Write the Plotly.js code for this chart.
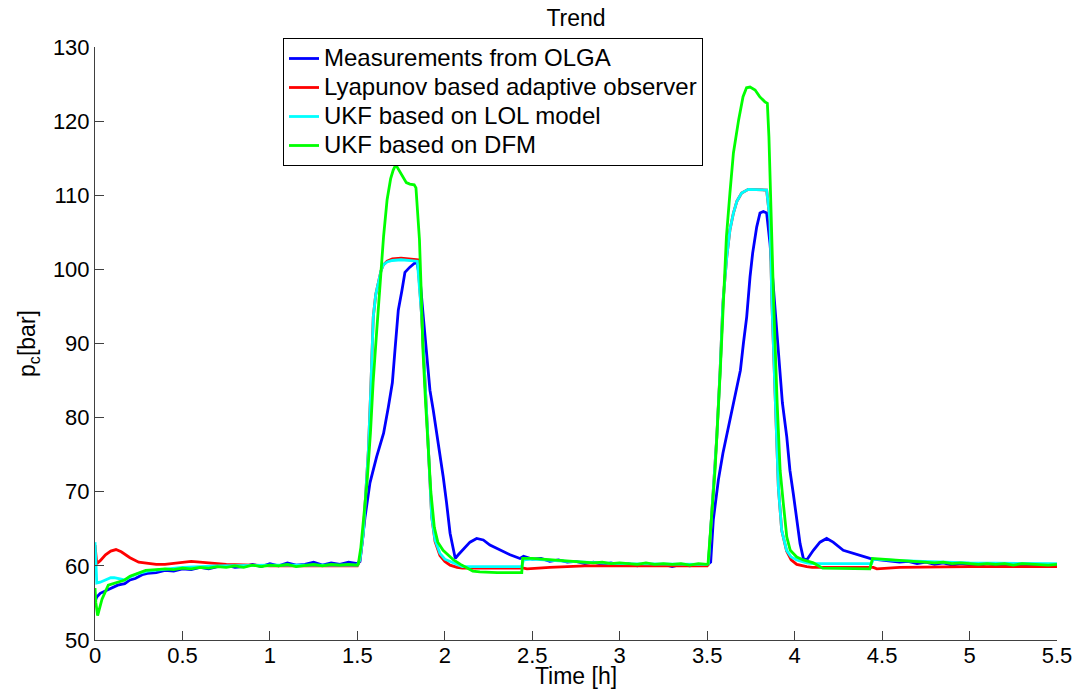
<!DOCTYPE html>
<html>
<head>
<meta charset="utf-8">
<script src="https://cdn.plot.ly/plotly-3.0.1.min.js"></script>
<style>html,body{margin:0;padding:0;background:#fff;}#chart{width:1078px;height:689px;}</style>
</head>
<body>
<div id="chart"></div>
<script>
// ---- data ----
const seriesNames = ["Measurements from OLGA", "Lyapunov based adaptive observer", "UKF based on LOL model", "UKF based on DFM"];

const blueT = [0,0.01,0.03,0.06,0.1,0.13,0.17,0.2,0.23,0.27,0.3,0.35,0.4,0.45,0.5,0.55,0.6,0.65,0.7,0.75,0.8,0.85,0.9,0.95,1.0,1.05,1.1,1.15,1.2,1.25,1.3,1.35,1.4,1.45,1.5,
1.515,1.544,1.572,1.61,1.65,1.677,1.70,1.715,1.734,1.755,1.772,1.80,1.83,1.843,1.86,1.877,1.896,1.915,1.934,1.954,1.97,1.991,2.01,2.03,2.05,2.06,2.077,2.106,2.144,2.182,2.22,2.258,2.315,2.373,2.43,2.45,
2.5,2.55,2.6,2.65,2.7,2.75,2.8,2.85,2.9,2.95,3.0,3.05,3.1,3.15,3.2,3.25,3.3,3.35,3.4,3.45,3.5,
3.52,3.535,3.564,3.59,3.63,3.659,3.69,3.707,3.726,3.745,3.76,3.783,3.802,3.821,3.84,3.859,3.878,3.897,3.916,3.93,3.955,3.973,3.992,4.012,4.031,4.05,4.069,4.107,4.145,4.183,4.22,4.278,4.355,4.43,4.45,
4.5,4.55,4.6,4.65,4.7,4.75,4.8,4.85,4.9,4.95,5.0,5.05,5.1,5.15,5.2,5.25,5.3,5.35,5.4,5.45,5.5];
const blueP = [55.2,55.8,56.3,56.6,57.0,57.4,57.6,58.1,58.3,58.8,59.0,59.1,59.4,59.3,59.6,59.5,59.8,59.6,59.9,60.1,59.8,59.9,60.2,59.9,60.3,60.0,60.4,60.1,60.2,60.5,60.1,60.4,60.2,60.5,60.3,
60.6,66.6,71.2,74.7,77.9,81.4,84.7,89.1,94.5,97.2,99.6,100.3,100.9,100.7,98.2,93.6,88.2,83.7,81.0,77.9,75.6,72.0,68.5,64.4,62.1,61.0,61.5,62.3,63.2,63.7,63.5,62.8,62.1,61.5,61.0,61.3,
60.9,61.0,60.6,60.8,60.5,60.6,60.3,60.5,60.2,60.4,60.1,60.3,60.0,60.3,60.1,60.2,59.9,60.2,60.0,60.2,60.1,
60.5,66.2,71.6,75.2,79.7,82.8,86.4,90.0,93.6,99.0,102.2,105.7,107.6,107.8,107.6,103.5,97.6,91.8,86.4,82.0,77.4,72.9,69.8,66.2,63.0,61.0,60.8,62.1,63.2,63.7,63.2,62.1,61.5,61.0,60.9,
60.8,60.7,60.5,60.6,60.3,60.5,60.2,60.4,60.1,60.3,60.2,60.0,60.3,60.1,60.2,59.9,60.2,60.1,60.0,60.2,60.1];

const redT = [0,0.01,0.03,0.06,0.09,0.12,0.15,0.2,0.25,0.3,0.35,0.4,0.5,0.55,0.65,0.75,0.9,1.0,1.5,
1.515,1.534,1.55,1.563,1.577,1.591,1.605,1.62,1.635,1.648,1.67,1.7,1.75,1.845,1.868,1.897,1.915,1.925,1.944,1.972,2.0,2.03,2.07,2.1,2.45,2.47,2.6,2.8,3.0,3.5,
3.507,3.525,3.555,3.574,3.59,3.612,3.63,3.65,3.67,3.697,3.735,3.84,3.859,3.87,3.89,3.907,3.926,3.954,3.98,4.012,4.069,4.1,4.45,4.47,4.6,4.8,5.0,5.5];
const redP = [62.8,60.3,60.7,61.5,62.0,62.2,61.9,61.1,60.5,60.3,60.2,60.2,60.5,60.6,60.4,60.2,60.1,60.0,60.0,
60.8,64.4,70.0,75.6,84.0,93.6,96.6,98.4,99.8,100.6,101.1,101.4,101.5,101.3,93.6,80.1,71.2,66.6,63.3,61.4,60.6,60.1,59.8,59.7,59.7,59.6,59.8,60.0,60.0,60.0,
60.2,66.2,77.4,86.4,95.5,101.7,105.3,107.6,109.2,110.3,110.8,110.7,106.6,95.5,82.0,70.6,64.8,62.0,60.8,60.2,59.9,59.8,59.8,59.6,59.8,59.9,59.9,59.9];

const cyanT = [0,0.005,0.01,0.03,0.06,0.09,0.11,0.14,0.17,0.2,0.25,0.3,0.4,0.5,0.7,1.0,1.5,
1.515,1.534,1.55,1.563,1.577,1.591,1.605,1.62,1.635,1.648,1.67,1.7,1.75,1.843,1.868,1.897,1.915,1.925,1.944,1.972,2.0,2.03,2.07,2.1,2.44,2.45,2.5,2.7,3.0,3.5,
3.507,3.525,3.555,3.574,3.59,3.612,3.63,3.65,3.67,3.697,3.735,3.84,3.859,3.87,3.89,3.907,3.926,3.954,3.98,4.012,4.069,4.1,4.44,4.45,4.6,5.0,5.5];
const cyanP = [63.2,60.0,57.7,57.8,58.1,58.4,58.4,58.2,58.1,58.5,59.0,59.3,59.6,59.8,60.0,60.1,60.1,
60.8,64.4,70.0,75.6,84.0,93.6,96.6,98.4,99.8,100.6,101.0,101.2,101.3,101.1,93.6,80.1,71.2,66.6,63.5,61.7,60.9,60.6,60.1,59.9,59.9,60.8,60.9,60.6,60.3,60.2,
60.3,66.2,77.4,86.4,95.5,101.7,105.3,107.6,109.2,110.3,110.8,110.7,106.6,95.5,82.0,70.6,64.8,62.1,61.2,60.8,60.4,60.3,60.3,60.9,60.7,60.4,60.3];

const greenT = [0,0.005,0.015,0.04,0.076,0.1,0.13,0.17,0.2,0.25,0.29,
0.35,0.4,0.45,0.5,0.55,0.6,0.65,0.7,0.75,0.8,0.85,0.9,0.95,1.0,1.05,1.1,1.15,1.2,1.25,1.3,1.35,1.4,1.45,1.5,
1.505,1.52,1.535,1.555,1.575,1.59,1.61,1.63,1.65,1.67,1.69,1.705,1.715,1.725,1.74,1.76,1.78,1.80,1.825,1.835,
1.845,1.855,1.865,1.875,1.89,1.905,1.92,1.94,1.96,1.99,2.02,2.05,2.09,2.125,2.16,2.2,2.3,2.44,2.445,
2.5,2.55,2.6,2.65,2.7,2.75,2.8,2.85,2.9,2.95,3.0,3.05,3.1,3.15,3.2,3.25,3.3,3.35,3.4,3.45,3.5,
3.505,3.525,3.545,3.575,3.592,3.61,3.63,3.65,3.68,3.705,3.725,3.745,3.774,3.80,3.83,3.844,
3.853,3.863,3.88,3.90,3.917,3.935,3.955,3.975,4.012,4.05,4.107,4.16,4.43,4.445,
4.5,4.55,4.6,4.65,4.7,4.75,4.8,4.85,4.9,4.95,5.0,5.05,5.1,5.15,5.2,5.25,5.3,5.35,5.4,5.45,5.5];
const greenP = [57.0,55.0,53.3,55.5,57.4,57.6,57.8,58.1,58.6,59.1,59.4,
59.5,59.6,59.5,59.7,59.6,59.8,59.7,59.9,59.8,60.0,59.8,60.1,59.9,60.1,60.0,60.2,59.9,60.1,60.2,60.0,60.2,60.1,60.2,60.1,
60.2,62.5,66.0,71.2,78.0,84.7,91.5,98.2,104.5,109.4,112.2,113.4,113.9,113.9,113.3,112.4,111.7,111.5,111.4,111.0,
108.0,104.0,97.0,89.1,82.0,75.6,70.0,65.2,63.2,62.1,61.5,60.8,60.2,59.7,59.3,59.2,59.1,59.1,61.0,
61.0,60.9,60.8,60.7,60.6,60.6,60.5,60.4,60.5,60.3,60.4,60.3,60.2,60.4,60.2,60.3,60.2,60.3,60.1,60.3,60.2,
60.3,66.2,72.9,86.4,95.5,104.4,110.3,115.7,120.2,123.3,124.5,124.6,124.2,123.3,122.6,122.4,
117.9,109.0,95.5,82.0,72.9,68.5,63.9,62.1,61.2,60.8,60.4,59.7,59.6,61.0,
60.9,60.8,60.7,60.6,60.6,60.5,60.4,60.5,60.3,60.4,60.3,60.2,60.3,60.2,60.3,60.1,60.3,60.2,60.2,60.1,60.2];

const seriesColors = ["#0000ff", "#ff0000", "#00ffff", "#00ff00"];
const xTickVals = [0,0.5,1,1.5,2,2.5,3,3.5,4,4.5,5,5.5];
const xTickText = ["0","0.5","1","1.5","2","2.5","3","3.5","4","4.5","5","5.5"];
const yTickVals = [50,60,70,80,90,100,110,120,130];

// ---- chart ----
const xs = [blueT, redT, cyanT, greenT];
const ys = [blueP, redP, cyanP, greenP];
const traces = xs.map((x, i) => ({
  type: "scatter", mode: "lines", x: x, y: ys[i],
  name: '<span style="font-size:24px">' + seriesNames[i] + '</span>',
  line: {color: seriesColors[i], width: 2.8}
}));

const FONT = "Liberation Sans, Arial, Helvetica, sans-serif";
const layout = {
  width: 1078, height: 689,
  margin: {l: 95, r: 21, t: 47, b: 49},
  paper_bgcolor: "#ffffff", plot_bgcolor: "#ffffff",
  font: {family: FONT, size: 22, color: "#000"},
  title: {text: "Trend", x: 0.5, xref: "paper", xanchor: "center", y: 1 - 18/689, yref: "container", yanchor: "middle",
          font: {family: FONT, size: 23, color: "#000"}},
  showlegend: true,
  legend: {x: (283-95)/962, y: (640-38)/593, xanchor: "left", yanchor: "top",
           bgcolor: "#ffffff", bordercolor: "#000000", borderwidth: 1,
           font: {family: FONT, size: 20, color: "#000"}, itemwidth: 30, tracegroupgap: 0},
  xaxis: {range: [0, 5.5], tickvals: xTickVals, ticktext: xTickText, ticks: "inside", ticklen: 9, tickwidth: 1,
          tickcolor: "#404040", showline: true, linecolor: "#404040", linewidth: 1, mirror: false,
          showgrid: false, zeroline: false, tickfont: {family: FONT, size: 22, color: "#000"}, ticklabelstandoff: -4,
          title: {text: "Time [h]", standoff: 2, font: {family: FONT, size: 23, color: "#000"}}},
  yaxis: {range: [50, 130], tickvals: yTickVals, ticks: "inside", ticklen: 9, tickwidth: 1,
          tickcolor: "#404040", showline: true, linecolor: "#404040", linewidth: 1, mirror: false,
          showgrid: false, zeroline: false, tickfont: {family: FONT, size: 22, color: "#000"},
          title: {text: "p<sub>c</sub>[bar]", standoff: 10, font: {family: FONT, size: 23, color: "#000"}}}
};

Plotly.newPlot("chart", traces, layout, {displayModeBar: false, staticPlot: true});
</script>
</body>
</html>
